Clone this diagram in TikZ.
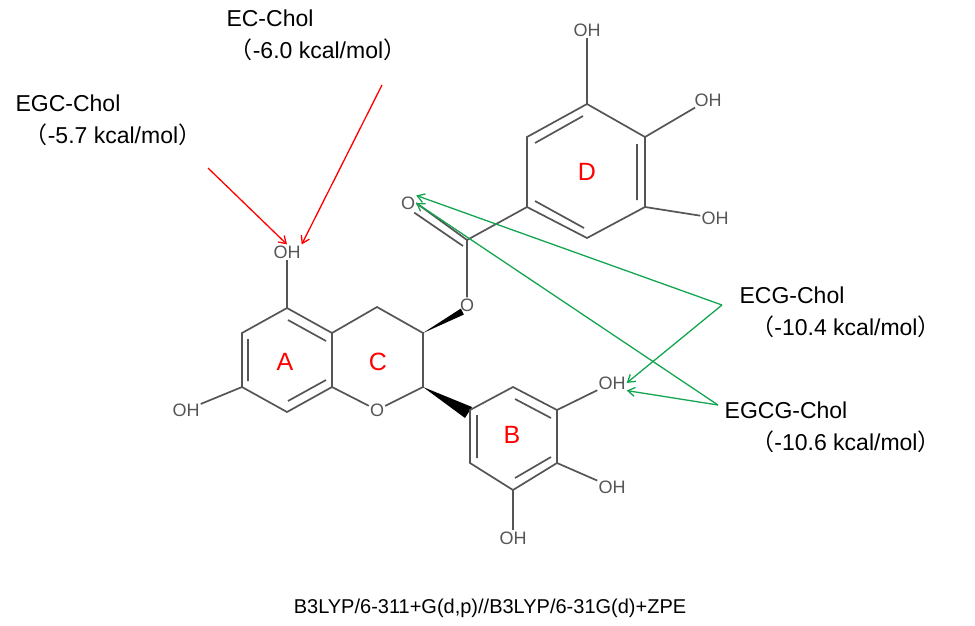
\documentclass[tikz,border=0pt]{standalone}
\usepackage{fontspec}
\usetikzlibrary{calc,arrows.meta}
\setmainfont{Liberation Sans}
\newfontfamily\cjk{Noto Sans CJK SC}
\definecolor{bnd}{RGB}{85,85,85}
\definecolor{grn}{RGB}{20,165,80}
\begin{document}
\begin{tikzpicture}[x=1pt,y=-1pt,
  b/.style={draw=bnd,line width=1.7pt},
  atm/.style={font=\fontsize{18}{18}\selectfont,text=bnd,inner sep=1pt},
  rl/.style={font=\fontsize{25}{25}\selectfont,text=red},
  lab/.style={font=\fontsize{23}{24}\selectfont,inner sep=1pt},
  ra/.style={draw=red,line width=1.3pt,-{Straight Barb[length=7pt,width=9pt]}},
  ga/.style={draw=grn,line width=1.3pt,-{Straight Barb[length=7pt,width=9pt]}}]
\useasboundingbox (0,0) rectangle (975,625);
% ring A
\coordinate (a1) at (287,308); \coordinate (a2) at (332,333); \coordinate (a3) at (332,387);
\coordinate (a4) at (287,412); \coordinate (a5) at (242,387); \coordinate (a6) at (242,333);
\draw[b] (a1)--(a2)--(a3)--(a4)--(a5)--(a6)--cycle;
\draw[b] (248,339)--(248,381) (288,320)--(326,341) (326,380)--(288,401);
% ring C
\coordinate (c4) at (377,307); \coordinate (c3) at (423,333); \coordinate (c2) at (423,387);
\node[atm] (o1) at (377,410) {O};
\draw[b] (a2)--(c4)--(c3)--(c2)--(o1)--(a3);
% OH on A
\node[atm] (oha) at (287,252) {OH};
\node[atm] (ohb) at (186,410) {OH};
\draw[b] (a1)--(oha); \draw[b] (a5)--(ohb);
% ester
\node[atm] (oe) at (467,305) {O};
\fill[black] (c3)--($(oe.south west)+(2,-4)$)--($(oe.south west)+(5,2)$)--cycle;
\coordinate (cc) at (467,240);
\node[atm] (oc) at (408,203) {O};
\draw[b] (oe)--(cc)--(527,207);
\draw[b] (cc)--(oc.east); \draw[b] ($(cc)+(-4,6)$)--($(oc.south east)+(-2,2)$);
% ring D
\coordinate (d1) at (527,207); \coordinate (d2) at (527,137); \coordinate (d3) at (587,104);
\coordinate (d4) at (645,137); \coordinate (d5) at (645,207); \coordinate (d6) at (587,238);
\draw[b] (d1)--(d2)--(d3)--(d4)--(d5)--(d6)--cycle;
\draw[b] (535,143)--(583,116) (637,144)--(637,200) (535,201)--(584,228);
\node[atm] (ohd1) at (587,30) {OH};
\node[atm] (ohd2) at (708,100) {OH};
\node[atm] (ohd3) at (715,218) {OH};
\draw[b] (d3)--(ohd1); \draw[b] (d4)--(ohd2); \draw[b] (d5)--(ohd3);
% ring B
\coordinate (b1) at (470,410); \coordinate (b2) at (513,387); \coordinate (b3) at (557,410);
\coordinate (b4) at (557,463); \coordinate (b5) at (513,490); \coordinate (b6) at (470,463);
\fill[black] (c2)--(472,407)--(465,418)--cycle;
\draw[b] (b1)--(b2)--(b3)--(b4)--(b5)--(b6)--cycle;
\draw[b] (477,415)--(477,458) (515,399)--(551,418) (551,457)--(515,478);
\node[atm] (ohb1) at (612,383) {OH};
\node[atm] (ohb2) at (612,487) {OH};
\node[atm] (ohb3) at (513,538) {OH};
\draw[b] (b3)--(ohb1); \draw[b] (b4)--(ohb2); \draw[b] (b5)--(ohb3);
% ring labels
\node[rl] (la) at (285,362) {A}; \node[rl] (lc) at (378,362) {C};
\node[rl] (lb) at (512,435) {B}; \node[rl] (ld) at (587,172) {D};
% texts
\node[lab] (t1) at (270,18) {EC-Chol};
\node[lab] (t1b) at (318,50) {{\cjk （}-6.0 kcal/mol{\cjk ）}};
\node[lab] (t2) at (68,103) {EGC-Chol};
\node[lab] (t2b) at (113,135) {{\cjk （}-5.7 kcal/mol{\cjk ）}};
\node[lab] (t3) at (792,295) {ECG-Chol};
\node[lab] (t3b) at (846,327) {{\cjk （}-10.4 kcal/mol{\cjk ）}};
\node[lab] (t4) at (786,410) {EGCG-Chol};
\node[lab] (t4b) at (846,442) {{\cjk （}-10.6 kcal/mol{\cjk ）}};
\node[lab,font=\fontsize{20}{22}\selectfont] (bot) at (490,608) {B3LYP/6-311+G(d,p)//B3LYP/6-31G(d)+ZPE};
% arrows
\coordinate (r1) at (208,168); \coordinate (r2) at (382,85);
\draw[ra] (r1)--(oha.north);
\draw[ra] (r2)--(oha.north east);
\coordinate (g1) at (722,305); \coordinate (g2) at (718,405);
\draw[ga] (g1)--(oc.north east); \draw[ga] (g1)--(ohb1.east);
\draw[ga] (g2)--(oc.east); \draw[ga] (g2)--(ohb1.south east);
\end{tikzpicture}
\end{document}
